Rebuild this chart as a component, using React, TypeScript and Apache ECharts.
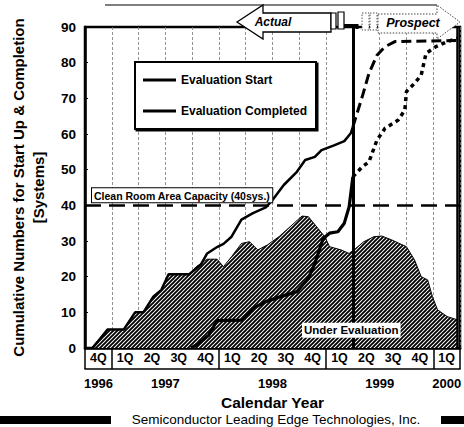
import React, { useEffect, useRef } from "react";
import * as echarts from "echarts";

// x values are in quarters counted from the start of 4Q 1996
const quarterLabels = ["4Q", "1Q", "2Q", "3Q", "4Q", "1Q", "2Q", "3Q", "4Q", "1Q", "2Q", "3Q", "4Q", "1Q"];
const yearLabels = ["1996", "1997", "1998", "1999", "2000"];
const yearCenters = [0.5, 3, 7, 11, 13.5];

const startActualX = [0.29, 0.84, 1.45, 1.87, 2.18, 2.55, 2.85, 3.12, 3.89, 4.32, 4.56, 4.93, 5.17, 5.47, 5.84, 6.27, 6.75, 7.0, 7.42, 7.91, 8.22, 8.58, 8.83, 9.32, 9.68, 9.92, 10.0];
const startActualY = [0, 5.2, 5.2, 10, 10, 14.4, 16.3, 20.7, 20.7, 23.3, 26.5, 28.3, 29.2, 31.2, 36, 37.8, 39.4, 41.5, 45.7, 49.4, 52.7, 53.6, 55.5, 56.9, 58, 60.2, 62];

const startProspectX = [10.0, 10.35, 10.6, 10.9, 11.2, 11.57, 13.9];
const startProspectY = [62, 70.5, 77, 82.1, 84.5, 85.9, 86.2];

const completedActualX = [3.95, 4.2, 4.62, 4.93, 5.84, 6.27, 6.75, 7.3, 7.91, 8.34, 8.58, 8.89, 9.13, 9.44, 9.68, 9.86, 10.0];
const completedActualY = [0, 1, 3.6, 7.7, 7.8, 11.1, 13, 14.4, 15.8, 19.5, 23.7, 30.7, 32.2, 32.6, 35, 39.6, 48];

const completedProspectX = [10.0, 10.35, 10.6, 10.9, 11.2, 11.69, 11.94, 12.0, 12.3, 12.55, 12.73, 13.1, 13.52, 13.9];
const completedProspectY = [48, 50.8, 52.2, 58.3, 61.6, 63.9, 66.7, 71.9, 74.2, 76.5, 82.6, 84.5, 85.9, 86.8];

const underEvalX = [0.23, 0.84, 1.45, 1.87, 2.18, 2.55, 2.85, 3.12, 3.89, 4.15, 4.56, 4.93, 5.17, 5.47, 5.84, 6.14, 6.45, 6.81, 7.24, 7.73, 8.1, 8.34, 8.7, 8.95, 9.13, 9.56, 9.86, 10.1, 10.41, 10.78, 11.08, 11.45, 12.0, 12.3, 12.55, 12.79, 12.97, 13.16, 13.52, 13.9];
const underEvalY = [0, 5.2, 5.2, 10, 10, 14.4, 16.3, 20.7, 20.7, 22.8, 24.9, 24.9, 22.8, 25.6, 29.3, 29.8, 27.5, 28.9, 31.2, 34.5, 37, 36.8, 33.5, 31.2, 28.4, 27.5, 26.5, 27.9, 29.8, 31.2, 31.4, 30.3, 28.4, 24.7, 20, 19.1, 14.4, 10.7, 8.8, 7.9];

const capacity = 40;
const nowQuarter = 10;
const plotEnd = 13.9;

const FN = "'Liberation Sans', Arial, sans-serif";

const zip = (xs: number[], ys: number[]) => xs.map((x, i) => [x, ys[i]]);

function hatch() {
  const c = document.createElement("canvas");
  c.width = 4;
  c.height = 4;
  const g = c.getContext("2d")!;
  g.fillStyle = "#fff";
  g.fillRect(0, 0, 4, 4);
  g.strokeStyle = "#000";
  g.lineWidth = 1.9;
  g.beginPath();
  g.moveTo(-1, 5); g.lineTo(5, -1);
  g.moveTo(-1, 1); g.lineTo(1, -1);
  g.moveTo(3, 5); g.lineTo(5, 3);
  g.stroke();
  return c.toDataURL();
}

export default function App() {
  const ref = useRef<HTMLDivElement>(null);
  useEffect(() => {
    const chart = echarts.init(ref.current!, null, { renderer: "svg" });
    const yearSlots: string[] = [];
    for (let k = 0; k <= 28; k++) yearSlots.push("");
    yearCenters.forEach((c, i) => (yearSlots[Math.round(c * 2)] = yearLabels[i]));

    chart.setOption({
      animation: false,
      grid: { left: 82, right: -1, top: 27, bottom: 79, show: true, borderColor: "#000", borderWidth: 2.5, backgroundColor: "transparent" },
      legend: {
        data: [
          { name: "Evaluation Start", icon: "rect" },
          { name: "Evaluation Completed", icon: "rect" },
        ],
        orient: "vertical",
        left: 135,
        top: 62,
        itemWidth: 33,
        itemHeight: 3,
        itemGap: 17,
        padding: [11, 9, 11, 8],
        backgroundColor: "#fff",
        borderColor: "#000",
        borderWidth: 2,
        shadowColor: "#000",
        shadowOffsetX: 1.5,
        shadowOffsetY: 1.5,
        shadowBlur: 0,
        textStyle: { fontFamily: FN, fontWeight: "bold", fontSize: 12, color: "#000", lineHeight: 14 },
      },
      xAxis: [
        {
          type: "value", min: 0, max: 14, interval: 1,
          axisLine: { show: true, lineStyle: { color: "#000", width: 2.5 } },
          axisTick: { show: false }, axisLabel: { show: false },
          splitLine: { show: true, lineStyle: { color: "#777", width: 0.8, type: [3, 2] } },
        },
        {
          type: "category", data: quarterLabels, boundaryGap: true, position: "bottom", offset: 21,
          axisLine: { show: true, lineStyle: { color: "#000", width: 1.5 } },
          axisTick: { show: true, inside: true, length: 21, interval: (i: number) => i === 0 || quarterLabels[i] === "1Q", lineStyle: { color: "#000", width: 1.5 } },
          axisLabel: { inside: true, margin: 5, interval: 0, fontFamily: FN, fontWeight: "bold", fontSize: 12.5, color: "#000" },
          splitLine: { show: false },
        },
        {
          type: "category", data: yearSlots, boundaryGap: false, position: "bottom", offset: 21,
          axisLine: { show: false }, axisTick: { show: false },
          axisLabel: { interval: 0, margin: 8, fontFamily: FN, fontWeight: "bold", fontSize: 13, color: "#000" },
          splitLine: { show: false },
          name: "Calendar Year", nameLocation: "middle", nameGap: 25,
          nameTextStyle: { fontFamily: FN, fontWeight: "bold", fontSize: 15.5, color: "#000" },
        },
      ],
      yAxis: {
        type: "value", min: 0, max: 90, interval: 10,
        axisLine: { show: true, lineStyle: { color: "#000", width: 2.5 } },
        axisTick: { show: true, inside: true, length: 3, lineStyle: { color: "#000" } },
        axisLabel: { margin: 9, fontFamily: FN, fontWeight: "bold", fontSize: 13.5, color: "#000" },
        splitLine: { show: false },
        name: "Cumulative Numbers for Start Up & Completion\n[Systems]",
        nameLocation: "middle", nameGap: 37,
        nameTextStyle: { fontFamily: FN, fontWeight: "bold", fontSize: 15, lineHeight: 20, color: "#000" },
      },
      series: [
        {
          name: "Under Evaluation", type: "line", data: zip(underEvalX, underEvalY), symbol: "none",
          lineStyle: { color: "#000", width: 1 },
          areaStyle: { color: { image: hatch(), repeat: "repeat", imageWidth: 4, imageHeight: 4 }, opacity: 1 },
          z: 1,
          markPoint: {
            symbol: "rect", symbolSize: 0, silent: true,
            data: [{ coord: [9.94, 5.0] }],
            label: {
              show: true, position: "inside", formatter: "Under Evaluation",
              backgroundColor: "#fff", padding: [2, 2, 1, 2],
              fontFamily: FN, fontWeight: "bold", fontSize: 11.5, color: "#000",
            },
          },
        },
        { name: "Evaluation Start", type: "line", data: zip(startActualX, startActualY), symbol: "none", lineStyle: { color: "#000", width: 2.5 }, itemStyle: { color: "#000" }, z: 3 },
        { name: "Evaluation Start prospect", type: "line", data: zip(startProspectX, startProspectY), symbol: "none", lineStyle: { color: "#000", width: 3, type: [10, 5] }, z: 3 },
        { name: "Evaluation Completed", type: "line", data: zip(completedActualX, completedActualY), symbol: "none", lineStyle: { color: "#000", width: 3.2 }, itemStyle: { color: "#000" }, z: 3 },
        {
          name: "Evaluation Completed prospect", type: "line", data: zip(completedProspectX, completedProspectY), symbol: "none",
          lineStyle: { color: "#000", width: 3.5, type: [4, 4] }, z: 4,
          markLine: {
            symbol: "none", silent: true,
            data: [
              {
                yAxis: capacity,
                lineStyle: { color: "#000", width: 2.5, type: [16, 8] },
                label: {
                  show: true, position: "insideStartTop", distance: [7, 3],
                  formatter: "Clean Room Area Capacity (40sys.)",
                  backgroundColor: "#fff", borderColor: "#000", borderWidth: 1, padding: [2, 2, 1, 2],
                  fontFamily: FN, fontWeight: "bold", fontSize: 10.5, color: "#000",
                },
              },
              { xAxis: nowQuarter, lineStyle: { color: "#000", width: 3, type: "solid" }, label: { show: false } },
              { xAxis: plotEnd, lineStyle: { color: "#000", width: 2.5, type: "solid" }, label: { show: false } },
            ],
          },
        },
      ],
      graphic: [
        { type: "line", z: 100, shape: { x1: 105, y1: 5, x2: 437, y2: 5 }, style: { stroke: "#000", lineWidth: 1.2 } },
        { type: "polygon", z: 100, shape: { points: [[237, 22], [263, 5], [263, 13], [331, 13], [331, 32], [263, 32], [263, 39]] }, style: { fill: "#fff", stroke: "#000", lineWidth: 1.3 } },
        { type: "text", z: 101, x: 273, y: 22, style: { text: "Actual", font: `italic bold 12px ${FN}`, fill: "#000", align: "center", verticalAlign: "middle" } },
        { type: "rect", z: 100, shape: { x: 331, y: 13, width: 5, height: 16 }, style: { fill: "#fff", stroke: "#000", lineWidth: 1.2 } },
        { type: "rect", z: 100, shape: { x: 338, y: 12, width: 6, height: 17 }, style: { fill: "#fff", stroke: "#000", lineWidth: 1.2 } },
        { type: "line", z: 100, shape: { x1: 344, y1: 25, x2: 357, y2: 25 }, style: { stroke: "#000", lineWidth: 2 } },
        { type: "line", z: 100, shape: { x1: 357, y1: 24, x2: 357, y2: 29 }, style: { stroke: "#000", lineWidth: 3 } },
        { type: "rect", z: 100, shape: { x: 362, y: 13, width: 7, height: 17 }, style: { fill: "#fff", stroke: "#555", lineWidth: 1, lineDash: [1.5, 1.5] } },
        { type: "rect", z: 100, shape: { x: 370, y: 13, width: 7, height: 17 }, style: { fill: "#fff", stroke: "#555", lineWidth: 1, lineDash: [1.5, 1.5] } },
        { type: "polygon", z: 100, shape: { points: [[378, 14], [437, 14], [437, 5], [460, 22], [437, 39], [437, 33], [378, 33]] }, style: { fill: "#fff", stroke: "#444", lineWidth: 1, lineDash: [1.5, 1.5] } },
        { type: "text", z: 101, x: 413, y: 23, style: { text: "Prospect", font: `italic bold 12.5px ${FN}`, fill: "#000", align: "center", verticalAlign: "middle" } },
        { type: "rect", z: 100, shape: { x: 0, y: 416, width: 111, height: 8 }, style: { fill: "#000" } },
        { type: "rect", z: 100, shape: { x: 441, y: 416, width: 23, height: 8 }, style: { fill: "#000" } },
        { type: "text", z: 101, x: 276, y: 419, style: { text: "Semiconductor Leading Edge Technologies, Inc.", font: "13.5px 'Liberation Sans', sans-serif", fill: "#000", align: "center", verticalAlign: "middle" } },
      ],
    });
    return () => chart.dispose();
  }, []);
  return <div ref={ref} style={{ position: "absolute", left: 0, top: 0, width: 464, height: 427, background: "#fff" }} />;
}
